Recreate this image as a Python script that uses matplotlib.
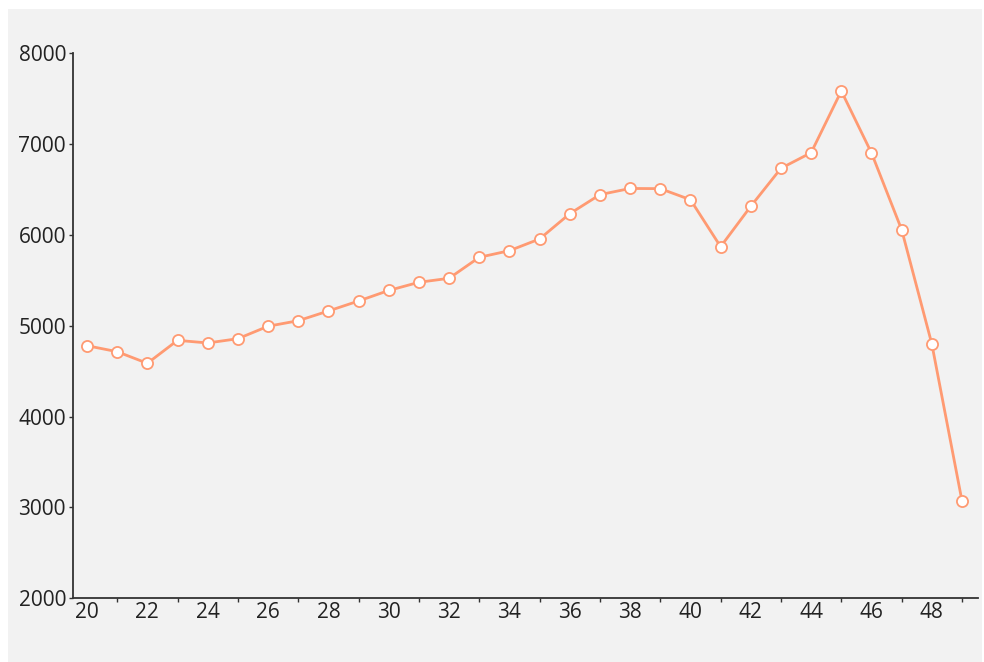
import matplotlib

matplotlib.use("Agg")

import matplotlib.pyplot as plt
from matplotlib.patches import Rectangle
from matplotlib.ticker import MultipleLocator, FixedLocator

plt.rcParams["font.family"] = ["Open Sans", "DejaVu Sans"]

# data
ages = list(range(20, 50))
values = [
    4781, 4715, 4587, 4840, 4811, 4858, 4995, 5056, 5163, 5273,
    5389, 5479, 5523, 5754, 5827, 5956, 6234, 6444, 6512, 6510,
    6388, 5871, 6316, 6734, 6906, 7585, 6903, 6058, 4800, 3071,
]
x_labels = list(range(20, 50, 2))

W, H = 984, 662
fig = plt.figure(figsize=(W / 100, H / 100), dpi=100, facecolor="white")
fig.patches.append(Rectangle((8 / W, 0), (982 - 8) / W, (H - 9) / H,
                             transform=fig.transFigure, facecolor="#f2f2f2",
                             edgecolor="none", zorder=-10))

ax = fig.add_axes([73 / W, (H - 598.3) / H, (978 - 73) / W, (598.3 - 53.3) / H])
ax.set_facecolor("#f2f2f2")

ax.plot(ages, values, color="#ff9a72", linewidth=2, marker="o", markersize=8,
        markerfacecolor="white", markeredgecolor="#ff9a72", markeredgewidth=1.3,
        zorder=3)

ax.set_xlim(19.536, 49.53)
ax.set_ylim(2000, 8000)

for side in ("top", "right"):
    ax.spines[side].set_visible(False)
for side in ("left", "bottom"):
    ax.spines[side].set_color("#333333")
    ax.spines[side].set_linewidth(1.3)

ax.xaxis.set_major_locator(FixedLocator(x_labels))
ax.xaxis.set_minor_locator(FixedLocator(list(range(21, 50, 2))))
ax.tick_params(axis="x", which="major", length=0, pad=3, labelsize=15,
               labelcolor="#222222")
ax.tick_params(axis="x", which="minor", length=3, width=1, color="#333333")
ax.yaxis.set_major_locator(MultipleLocator(1000))
ax.tick_params(axis="y", length=3, width=1, color="#333333", pad=2,
               labelsize=15, labelcolor="#222222")

fig.savefig("out.png", dpi=100, facecolor="white")
